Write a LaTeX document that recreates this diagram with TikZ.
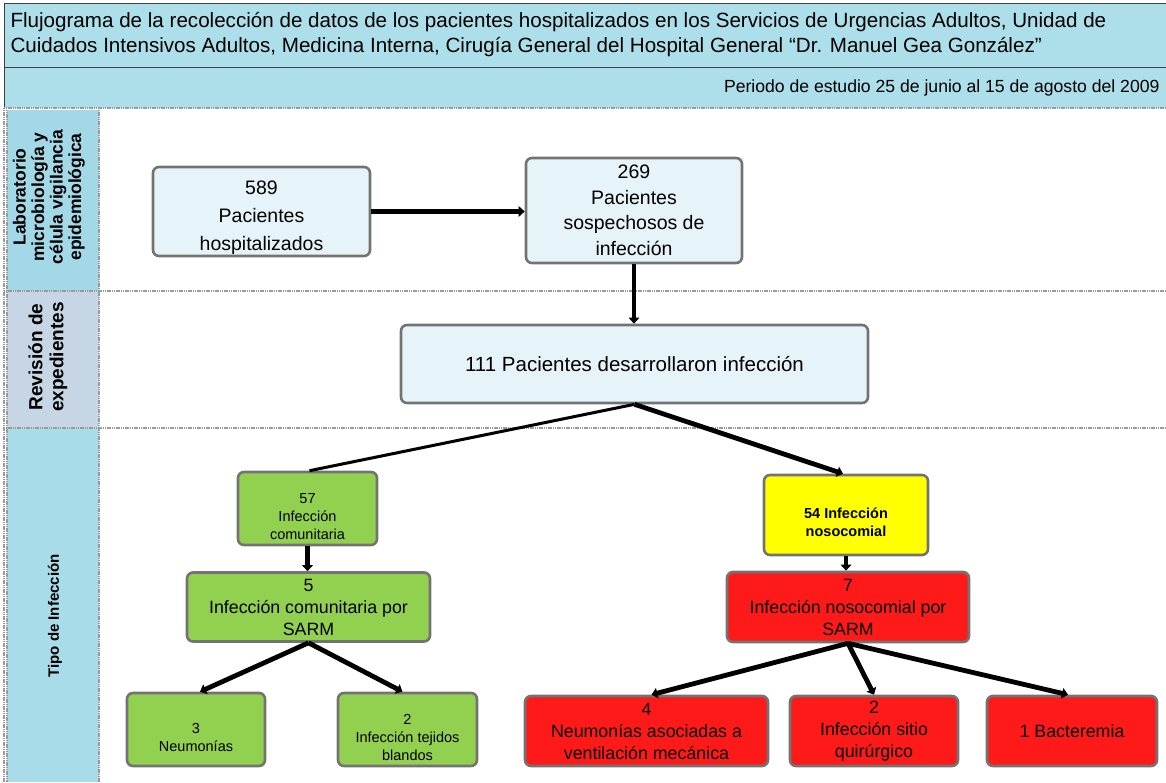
\documentclass[tikz,border=0pt]{standalone}
\usepackage{fontspec}
\setmainfont{Liberation Sans}
\usetikzlibrary{arrows.meta}
\definecolor{bandblue}{HTML}{ADDFEA}
\definecolor{laneone}{HTML}{A3D8E6}
\definecolor{lanetwo}{HTML}{C6D6E5}
\definecolor{lanethree}{HTML}{A9DCE9}
\definecolor{paleblue}{HTML}{E6F4F9}
\definecolor{boxgreen}{HTML}{92D050}
\definecolor{boxyellow}{HTML}{FFFF00}
\definecolor{boxred}{HTML}{FF1A1A}
\definecolor{rimgray}{HTML}{737373}
\definecolor{sepgray}{HTML}{9A9A9A}
% strut that pushes a box's text a little below its centre
\newcommand{\dropgap}{\rule{0pt}{26pt}}
\tikzset{
  flowbox/.style={draw=rimgray, line width=2.6pt, rounded corners=6pt,
    inner sep=0pt, align=center, text=black},
  palebox/.style={flowbox, fill=paleblue},
  greenbox/.style={flowbox, fill=boxgreen},
  yellowbox/.style={flowbox, fill=boxyellow},
  redbox/.style={flowbox, fill=boxred},
  bigtext/.style={font=\fontsize{19.5}{25.5}\selectfont},
  midtext/.style={font=\fontsize{17.8}{22}\selectfont},
  smalltext/.style={font=\fontsize{14.5}{18}\selectfont},
  flowarrow/.style={draw=black, line width=4.8pt,
    -{Triangle[width=10.5pt,length=6pt]}},
  thinlink/.style={draw=black, line width=3pt},
  laneline/.style={draw=sepgray, line width=2.6pt, dash pattern=on 1.2pt off 0.6pt},
  lanelabel/.style={rotate=90, align=center},
}
\begin{document}
\begin{tikzpicture}[x=1pt,y=-1pt]
\useasboundingbox (0,0) rectangle (1166,782);
\begin{scope}
\clip (0,0) rectangle (1166,782);
% heading bands
\fill[bandblue] (4,3) rectangle (1170,108);
\draw[draw=black!75, line width=1pt] (1170,3) -- (4,3) -- (4,108);
\draw[draw=black!75, line width=1pt] (4,67) -- (1170,67);
\node[anchor=west, align=left, font=\fontsize{20.6}{25}\selectfont] (title) at (7,35)
  {Flujograma de la recolección de datos de los pacientes hospitalizados en los Servicios de Urgencias Adultos, Unidad de\\
   Cuidados Intensivos Adultos, Medicina Interna, Cirugía General del Hospital General “Dr. Manuel Gea González”};
\node[anchor=east, font=\fontsize{17.6}{22}\selectfont] (period) at (1163,88)
  {Periodo de estudio 25 de junio al 15 de agosto del 2009};

% lane label column
\fill[laneone] (7,110) rectangle (99,291);
\fill[lanetwo] (7,291) rectangle (99,428);
\fill[lanethree] (7,428) rectangle (99,782);
\draw[laneline, line width=1.6pt] (4,108) -- (4,782);
\draw[laneline, line width=1.6pt] (99,108) -- (99,782);
\draw[laneline, line width=1.6pt] (7,110) -- (7,782);
\node[lanelabel, font=\bfseries\fontsize{17.5}{18.5}\selectfont] (labA) at (49,197)
  {Laboratorio\\microbiología y\\célula vigilancia\\epidemiológica};
\node[lanelabel, font=\bfseries\fontsize{19}{21}\selectfont] (labB) at (48,357)
  {Revisión de\\expedientes};
\node[lanelabel, font=\bfseries\fontsize{15}{18}\selectfont] (labC) at (55,616)
  {Tipo de Infección};

% lane separators
\draw[laneline] (4,108) -- (1170,108);
\draw[laneline] (4,291) -- (1170,291);
\draw[laneline] (4,428) -- (1170,428);
\end{scope}

% flow boxes
\node[palebox, font=\fontsize{19.5}{28}\selectfont, minimum width=217pt, minimum height=89pt] (A) at (261.5,211.5)
  {\dropgap589\\Pacientes\\hospitalizados};
\node[palebox, bigtext, minimum width=216pt, minimum height=105pt] (B) at (634,210.5)
  {269\\Pacientes\\sospechosos de\\infección};
\node[palebox, font=\fontsize{20.5}{24}\selectfont, minimum width=467pt, minimum height=78pt] (C) at (634.5,364)
  {111 Pacientes desarrollaron infección};

\node[greenbox, smalltext, minimum width=139pt, minimum height=73pt] (D) at (307.5,508.5)
  {\dropgap57\\Infección\\comunitaria};
\node[greenbox, midtext, minimum width=243pt, minimum height=69pt] (E) at (308.5,607)
  {5\\Infección comunitaria por\\SARM};
\node[greenbox, smalltext, minimum width=138pt, minimum height=73pt] (F) at (196,729.5)
  {\dropgap3\\Neumonías};
\node[greenbox, smalltext, minimum width=139pt, minimum height=73pt] (G) at (407.5,729.5)
  {\dropgap2\\Infección tejidos\\blandos};

\node[yellowbox, font=\bfseries\fontsize{14.5}{18}\selectfont, minimum width=164pt, minimum height=80pt] (H) at (846,515)
  {\dropgap54 Infección\\nosocomial};
\node[redbox, midtext, minimum width=242pt, minimum height=70pt] (I) at (848,607)
  {7\\Infección nosocomial por\\SARM};
\node[redbox, midtext, minimum width=243pt, minimum height=70pt] (J) at (646.5,731)
  {4\\Neumonías asociadas a\\ventilación mecánica};
\node[redbox, midtext, minimum width=168pt, minimum height=70pt] (K) at (874,731)
  {2\\Infección sitio\\quirúrgico};
\node[redbox, midtext, minimum width=170pt, minimum height=70pt] (L) at (1072,731)
  {1 Bacteremia};

% connectors
\draw[flowarrow] (A.east) -- (A.east -| B.west);
\draw[flowarrow] (B.south) -- (B.south |- C.north);
\draw[thinlink] (C.south) -- ([xshift=2pt]D.north);
\draw[flowarrow] (C.south) -- ([xshift=-3pt]H.north);
\draw[flowarrow] (D.south) -- (D.south |- E.north);
\draw[flowarrow] (H.south) -- (H.south |- I.north);
\draw[flowarrow] (E.south) -- ([xshift=4pt]F.north);
\draw[flowarrow] (E.south) -- ([xshift=-5pt]G.north);
\draw[flowarrow] (I.south) -- ([xshift=5pt]J.north);
\draw[flowarrow] (I.south) -- (K.north);
\draw[flowarrow] (I.south) -- ([xshift=-4pt]L.north);
\end{tikzpicture}
\end{document}
